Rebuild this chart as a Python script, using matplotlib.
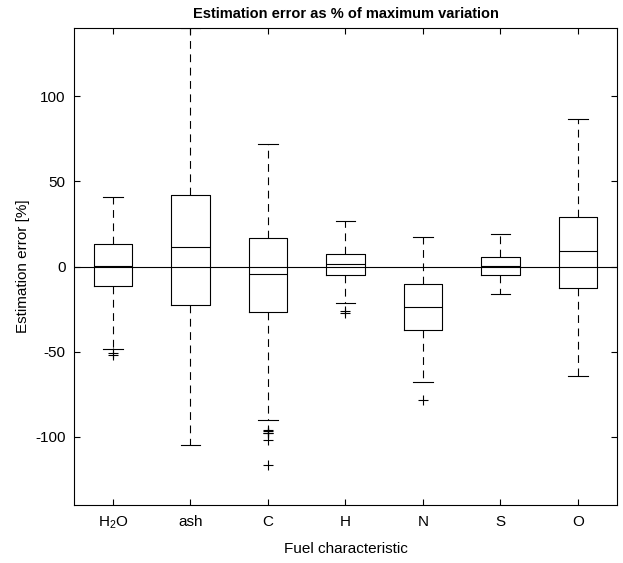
import matplotlib
matplotlib.use("Agg")
import matplotlib.pyplot as plt

plt.rcParams['font.family'] = ['Liberation Sans', 'DejaVu Sans']
plt.rcParams['axes.unicode_minus'] = False
plt.rcParams['mathtext.fontset'] = 'custom'
plt.rcParams['mathtext.rm'] = 'Liberation Sans'
plt.rcParams['mathtext.it'] = 'Liberation Sans'

labels = ["H$_2$O", "ash", "C", "H", "N", "S", "O"]
whisker_hi = [40.9, 140.0, 72.2, 26.8, 17.3, 18.9, 86.6]
q3 = [13.3, 42.3, 16.8, 7.6, -10.2, 5.9, 29.3]
medians = [0.6, 11.3, -4.6, 1.4, -23.5, 0.4, 9.0]
q1 = [-11.5, -22.7, -26.6, -5.1, -37.0, -5.1, -12.5]
whisker_lo = [-48.3, -105.0, -90.0, -21.6, -68.0, -16.0, -64.0]
outliers = [
    [-50.5, -52.0],
    [],
    [-96.0, -96.8, -97.5, -98.0, -101.7, -116.4],
    [-26.0, -27.0],
    [-78.6],
    [],
    [],
]

stats = []
for i in range(len(labels)):
    stats.append({
        "med": medians[i], "q1": q1[i], "q3": q3[i],
        "whislo": whisker_lo[i], "whishi": whisker_hi[i],
        "fliers": outliers[i], "label": labels[i],
    })

fig = plt.figure(figsize=(6.23, 5.63), dpi=100)
ax = fig.add_axes([0.119, 0.103, 0.871, 0.847])

ax.axhline(0, color="black", lw=0.8, zorder=1)
ax.bxp(stats, widths=0.5, showfliers=True,
       boxprops=dict(color="black", lw=0.8),
       medianprops=dict(color="black", lw=0.8),
       whiskerprops=dict(color="black", lw=0.8, linestyle=(0, (7, 5))),
       capprops=dict(color="black", lw=0.8),
       capwidths=0.25,
       flierprops=dict(marker="+", markeredgecolor="black", markersize=7, markeredgewidth=0.8))

ax.set_xlim(0.5, 7.5)
ax.set_ylim(-140, 140)
ax.set_yticks([-100, -50, 0, 50, 100])
ax.tick_params(direction="in", top=True, right=True, labelsize=11, length=4)
ax.tick_params(axis="x", pad=7)
ax.tick_params(axis="y", pad=6)
ax.set_title("Estimation error as % of maximum variation", fontsize=10.5, fontweight="bold", pad=7)
ax.set_xlabel("Fuel characteristic", fontsize=11, labelpad=8)
ax.set_ylabel("Estimation error [%]", fontsize=11, labelpad=4)
for s in ax.spines.values():
    s.set_linewidth(0.8)

fig.savefig("out.png", dpi=100)
